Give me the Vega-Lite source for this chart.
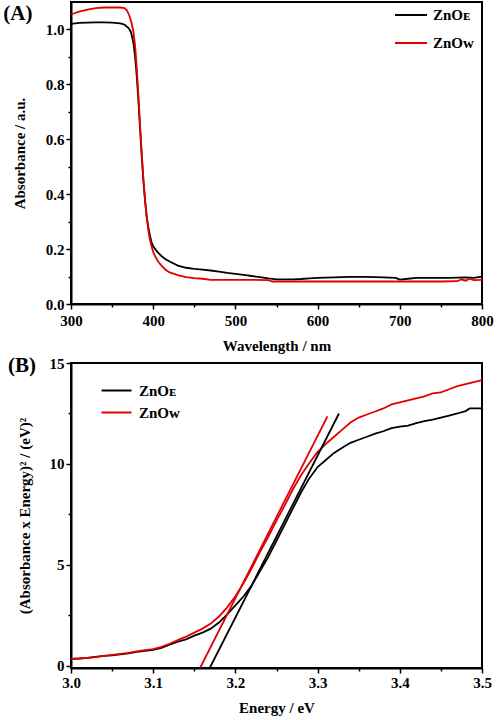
{
  "$schema": "https://vega.github.io/schema/vega-lite/v6.json",
  "background": "white",
  "padding": {"left": 2, "top": 1, "right": 2, "bottom": 0},
  "bounds": "flush",
  "spacing": 59,
  "config": {
    "font": "Liberation Serif",
    "view": {"stroke": "black", "strokeWidth": 2},
    "axis": {
      "grid": false,
      "domainColor": "black",
      "domainWidth": 2,
      "tickColor": "black",
      "tickWidth": 1.5,
      "labelFont": "Liberation Serif",
      "labelFontWeight": "bold",
      "labelFontSize": 15,
      "labelColor": "black",
      "labelFlush": false,
      "labelOverlap": false,
      "titleFont": "Liberation Serif",
      "titleFontWeight": "bold",
      "titleFontSize": 15,
      "titleColor": "black"
    },
    "legend": {
      "labelFont": "Liberation Serif",
      "labelFontWeight": "bold",
      "labelFontSize": 15,
      "labelColor": "black",
      "symbolType": "M-2,0H2",
      "symbolStrokeWidth": 2,
      "title": null
    },
    "title": {"font": "Liberation Serif", "fontWeight": "bold", "fontSize": 21, "color": "black"}
  },
  "datasets": {
    "abs": [
      {"wl": 300, "a": 1.020, "s": "E"}, {"wl": 310, "a": 1.024, "s": "E"}, {"wl": 320, "a": 1.025, "s": "E"}, {"wl": 330, "a": 1.026, "s": "E"}, {"wl": 340, "a": 1.026, "s": "E"}, {"wl": 350, "a": 1.025, "s": "E"}, {"wl": 360, "a": 1.022, "s": "E"}, {"wl": 365, "a": 1.018, "s": "E"}, {"wl": 370, "a": 1.005, "s": "E"}, {"wl": 373, "a": 0.99, "s": "E"}, {"wl": 376, "a": 0.95, "s": "E"}, {"wl": 378, "a": 0.90, "s": "E"}, {"wl": 380, "a": 0.83, "s": "E"}, {"wl": 382, "a": 0.74, "s": "E"}, {"wl": 384, "a": 0.64, "s": "E"}, {"wl": 386, "a": 0.54, "s": "E"}, {"wl": 388, "a": 0.45, "s": "E"}, {"wl": 390, "a": 0.38, "s": "E"}, {"wl": 392, "a": 0.32, "s": "E"}, {"wl": 394, "a": 0.28, "s": "E"}, {"wl": 396, "a": 0.25, "s": "E"}, {"wl": 398, "a": 0.225, "s": "E"}, {"wl": 400, "a": 0.21, "s": "E"}, {"wl": 405, "a": 0.19, "s": "E"}, {"wl": 410, "a": 0.175, "s": "E"}, {"wl": 415, "a": 0.163, "s": "E"}, {"wl": 420, "a": 0.155, "s": "E"}, {"wl": 430, "a": 0.14, "s": "E"}, {"wl": 440, "a": 0.132, "s": "E"}, {"wl": 450, "a": 0.128, "s": "E"}, {"wl": 460, "a": 0.125, "s": "E"}, {"wl": 470, "a": 0.122, "s": "E"}, {"wl": 480, "a": 0.118, "s": "E"}, {"wl": 490, "a": 0.113, "s": "E"}, {"wl": 500, "a": 0.110, "s": "E"}, {"wl": 510, "a": 0.106, "s": "E"}, {"wl": 520, "a": 0.102, "s": "E"}, {"wl": 530, "a": 0.098, "s": "E"}, {"wl": 540, "a": 0.093, "s": "E"}, {"wl": 550, "a": 0.090, "s": "E"}, {"wl": 560, "a": 0.090, "s": "E"}, {"wl": 570, "a": 0.090, "s": "E"}, {"wl": 580, "a": 0.091, "s": "E"}, {"wl": 590, "a": 0.093, "s": "E"}, {"wl": 600, "a": 0.095, "s": "E"}, {"wl": 620, "a": 0.097, "s": "E"}, {"wl": 640, "a": 0.099, "s": "E"}, {"wl": 660, "a": 0.099, "s": "E"}, {"wl": 680, "a": 0.097, "s": "E"}, {"wl": 695, "a": 0.095, "s": "E"}, {"wl": 700, "a": 0.089, "s": "E"}, {"wl": 710, "a": 0.092, "s": "E"}, {"wl": 720, "a": 0.095, "s": "E"}, {"wl": 740, "a": 0.095, "s": "E"}, {"wl": 760, "a": 0.095, "s": "E"}, {"wl": 780, "a": 0.097, "s": "E"}, {"wl": 790, "a": 0.095, "s": "E"}, {"wl": 800, "a": 0.100, "s": "E"},
      {"wl": 300, "a": 1.055, "s": "W"}, {"wl": 305, "a": 1.06, "s": "W"}, {"wl": 310, "a": 1.065, "s": "W"}, {"wl": 320, "a": 1.072, "s": "W"}, {"wl": 330, "a": 1.078, "s": "W"}, {"wl": 340, "a": 1.08, "s": "W"}, {"wl": 350, "a": 1.08, "s": "W"}, {"wl": 360, "a": 1.08, "s": "W"}, {"wl": 365, "a": 1.078, "s": "W"}, {"wl": 368, "a": 1.07, "s": "W"}, {"wl": 371, "a": 1.05, "s": "W"}, {"wl": 374, "a": 1.02, "s": "W"}, {"wl": 376, "a": 0.99, "s": "W"}, {"wl": 378, "a": 0.94, "s": "W"}, {"wl": 380, "a": 0.86, "s": "W"}, {"wl": 382, "a": 0.76, "s": "W"}, {"wl": 384, "a": 0.65, "s": "W"}, {"wl": 386, "a": 0.55, "s": "W"}, {"wl": 388, "a": 0.46, "s": "W"}, {"wl": 390, "a": 0.38, "s": "W"}, {"wl": 392, "a": 0.32, "s": "W"}, {"wl": 394, "a": 0.27, "s": "W"}, {"wl": 396, "a": 0.235, "s": "W"}, {"wl": 398, "a": 0.21, "s": "W"}, {"wl": 400, "a": 0.19, "s": "W"}, {"wl": 403, "a": 0.17, "s": "W"}, {"wl": 406, "a": 0.155, "s": "W"}, {"wl": 410, "a": 0.14, "s": "W"}, {"wl": 415, "a": 0.125, "s": "W"}, {"wl": 420, "a": 0.115, "s": "W"}, {"wl": 430, "a": 0.105, "s": "W"}, {"wl": 440, "a": 0.098, "s": "W"}, {"wl": 450, "a": 0.094, "s": "W"}, {"wl": 460, "a": 0.092, "s": "W"}, {"wl": 470, "a": 0.088, "s": "W"}, {"wl": 480, "a": 0.088, "s": "W"}, {"wl": 500, "a": 0.088, "s": "W"}, {"wl": 520, "a": 0.088, "s": "W"}, {"wl": 540, "a": 0.087, "s": "W"}, {"wl": 545, "a": 0.082, "s": "W"}, {"wl": 560, "a": 0.082, "s": "W"}, {"wl": 600, "a": 0.082, "s": "W"}, {"wl": 650, "a": 0.082, "s": "W"}, {"wl": 700, "a": 0.082, "s": "W"}, {"wl": 750, "a": 0.082, "s": "W"}, {"wl": 770, "a": 0.083, "s": "W"}, {"wl": 775, "a": 0.09, "s": "W"}, {"wl": 780, "a": 0.085, "s": "W"}, {"wl": 785, "a": 0.092, "s": "W"}, {"wl": 790, "a": 0.087, "s": "W"}, {"wl": 800, "a": 0.088, "s": "W"}
    ],
    "tauc": [
      {"e": 3.00, "v": 0.35, "s": "E", "k": "d"}, {"e": 3.01, "v": 0.37, "s": "E", "k": "d"}, {"e": 3.02, "v": 0.40, "s": "E", "k": "d"}, {"e": 3.03, "v": 0.45, "s": "E", "k": "d"}, {"e": 3.04, "v": 0.50, "s": "E", "k": "d"}, {"e": 3.05, "v": 0.52, "s": "E", "k": "d"}, {"e": 3.06, "v": 0.57, "s": "E", "k": "d"}, {"e": 3.07, "v": 0.62, "s": "E", "k": "d"}, {"e": 3.08, "v": 0.70, "s": "E", "k": "d"}, {"e": 3.09, "v": 0.75, "s": "E", "k": "d"}, {"e": 3.10, "v": 0.80, "s": "E", "k": "d"}, {"e": 3.11, "v": 0.90, "s": "E", "k": "d"}, {"e": 3.12, "v": 1.05, "s": "E", "k": "d"}, {"e": 3.13, "v": 1.20, "s": "E", "k": "d"}, {"e": 3.14, "v": 1.32, "s": "E", "k": "d"}, {"e": 3.15, "v": 1.50, "s": "E", "k": "d"}, {"e": 3.16, "v": 1.65, "s": "E", "k": "d"}, {"e": 3.17, "v": 1.85, "s": "E", "k": "d"}, {"e": 3.18, "v": 2.15, "s": "E", "k": "d"}, {"e": 3.19, "v": 2.55, "s": "E", "k": "d"}, {"e": 3.20, "v": 3.0, "s": "E", "k": "d"}, {"e": 3.21, "v": 3.45, "s": "E", "k": "d"}, {"e": 3.22, "v": 4.0, "s": "E", "k": "d"}, {"e": 3.23, "v": 4.7, "s": "E", "k": "d"}, {"e": 3.24, "v": 5.4, "s": "E", "k": "d"}, {"e": 3.25, "v": 6.2, "s": "E", "k": "d"}, {"e": 3.26, "v": 7.0, "s": "E", "k": "d"}, {"e": 3.27, "v": 7.8, "s": "E", "k": "d"}, {"e": 3.28, "v": 8.6, "s": "E", "k": "d"}, {"e": 3.29, "v": 9.3, "s": "E", "k": "d"}, {"e": 3.30, "v": 9.85, "s": "E", "k": "d"}, {"e": 3.31, "v": 10.2, "s": "E", "k": "d"}, {"e": 3.32, "v": 10.55, "s": "E", "k": "d"}, {"e": 3.33, "v": 10.8, "s": "E", "k": "d"}, {"e": 3.34, "v": 11.05, "s": "E", "k": "d"}, {"e": 3.35, "v": 11.2, "s": "E", "k": "d"}, {"e": 3.36, "v": 11.35, "s": "E", "k": "d"}, {"e": 3.37, "v": 11.5, "s": "E", "k": "d"}, {"e": 3.38, "v": 11.62, "s": "E", "k": "d"}, {"e": 3.39, "v": 11.78, "s": "E", "k": "d"}, {"e": 3.40, "v": 11.85, "s": "E", "k": "d"}, {"e": 3.41, "v": 11.9, "s": "E", "k": "d"}, {"e": 3.42, "v": 12.02, "s": "E", "k": "d"}, {"e": 3.43, "v": 12.12, "s": "E", "k": "d"}, {"e": 3.44, "v": 12.2, "s": "E", "k": "d"}, {"e": 3.45, "v": 12.3, "s": "E", "k": "d"}, {"e": 3.46, "v": 12.4, "s": "E", "k": "d"}, {"e": 3.47, "v": 12.5, "s": "E", "k": "d"}, {"e": 3.48, "v": 12.62, "s": "E", "k": "d"}, {"e": 3.485, "v": 12.75, "s": "E", "k": "d"}, {"e": 3.50, "v": 12.75, "s": "E", "k": "d"},
      {"e": 3.00, "v": 0.35, "s": "W", "k": "d"}, {"e": 3.01, "v": 0.37, "s": "W", "k": "d"}, {"e": 3.02, "v": 0.40, "s": "W", "k": "d"}, {"e": 3.03, "v": 0.44, "s": "W", "k": "d"}, {"e": 3.04, "v": 0.50, "s": "W", "k": "d"}, {"e": 3.05, "v": 0.55, "s": "W", "k": "d"}, {"e": 3.06, "v": 0.60, "s": "W", "k": "d"}, {"e": 3.07, "v": 0.65, "s": "W", "k": "d"}, {"e": 3.08, "v": 0.72, "s": "W", "k": "d"}, {"e": 3.09, "v": 0.78, "s": "W", "k": "d"}, {"e": 3.10, "v": 0.83, "s": "W", "k": "d"}, {"e": 3.11, "v": 0.95, "s": "W", "k": "d"}, {"e": 3.12, "v": 1.10, "s": "W", "k": "d"}, {"e": 3.13, "v": 1.28, "s": "W", "k": "d"}, {"e": 3.14, "v": 1.45, "s": "W", "k": "d"}, {"e": 3.15, "v": 1.65, "s": "W", "k": "d"}, {"e": 3.16, "v": 1.85, "s": "W", "k": "d"}, {"e": 3.17, "v": 2.1, "s": "W", "k": "d"}, {"e": 3.18, "v": 2.45, "s": "W", "k": "d"}, {"e": 3.19, "v": 2.9, "s": "W", "k": "d"}, {"e": 3.20, "v": 3.45, "s": "W", "k": "d"}, {"e": 3.21, "v": 4.1, "s": "W", "k": "d"}, {"e": 3.22, "v": 4.85, "s": "W", "k": "d"}, {"e": 3.23, "v": 5.65, "s": "W", "k": "d"}, {"e": 3.24, "v": 6.4, "s": "W", "k": "d"}, {"e": 3.25, "v": 7.2, "s": "W", "k": "d"}, {"e": 3.26, "v": 7.95, "s": "W", "k": "d"}, {"e": 3.27, "v": 8.75, "s": "W", "k": "d"}, {"e": 3.28, "v": 9.45, "s": "W", "k": "d"}, {"e": 3.29, "v": 10.05, "s": "W", "k": "d"}, {"e": 3.30, "v": 10.6, "s": "W", "k": "d"}, {"e": 3.31, "v": 11.0, "s": "W", "k": "d"}, {"e": 3.32, "v": 11.35, "s": "W", "k": "d"}, {"e": 3.33, "v": 11.7, "s": "W", "k": "d"}, {"e": 3.34, "v": 12.05, "s": "W", "k": "d"}, {"e": 3.35, "v": 12.3, "s": "W", "k": "d"}, {"e": 3.36, "v": 12.45, "s": "W", "k": "d"}, {"e": 3.37, "v": 12.6, "s": "W", "k": "d"}, {"e": 3.38, "v": 12.75, "s": "W", "k": "d"}, {"e": 3.39, "v": 12.95, "s": "W", "k": "d"}, {"e": 3.40, "v": 13.05, "s": "W", "k": "d"}, {"e": 3.41, "v": 13.15, "s": "W", "k": "d"}, {"e": 3.42, "v": 13.25, "s": "W", "k": "d"}, {"e": 3.43, "v": 13.35, "s": "W", "k": "d"}, {"e": 3.44, "v": 13.5, "s": "W", "k": "d"}, {"e": 3.45, "v": 13.55, "s": "W", "k": "d"}, {"e": 3.46, "v": 13.7, "s": "W", "k": "d"}, {"e": 3.47, "v": 13.85, "s": "W", "k": "d"}, {"e": 3.48, "v": 13.95, "s": "W", "k": "d"}, {"e": 3.49, "v": 14.05, "s": "W", "k": "d"}, {"e": 3.50, "v": 14.15, "s": "W", "k": "d"},
      {"e": 3.1688, "v": -0.1, "s": "E", "k": "t"}, {"e": 3.326, "v": 12.5, "s": "E", "k": "t"},
      {"e": 3.157, "v": -0.1, "s": "W", "k": "t"}, {"e": 3.312, "v": 12.36, "s": "W", "k": "t"}
    ]
  },
  "vconcat": [
    {
      "width": 411,
      "height": 302,
      "title": {"text": "(A)", "anchor": "start", "frame": "bounds", "dy": 22, "dx": -9, "offset": 0},
      "data": {"name": "abs"},
      "mark": {"type": "line", "strokeWidth": 1.8, "clip": true},
      "encoding": {
        "x": {
          "field": "wl", "type": "quantitative",
          "scale": {"domain": [300, 800], "nice": false},
          "axis": {
            "title": "Wavelength / nm",
            "values": [300, 350, 400, 450, 500, 550, 600, 650, 700, 750, 800],
            "labelExpr": "datum.value % 100 === 0 ? datum.label : ''",
            "tickSize": {"condition": {"test": "datum.value % 100 === 0", "value": 5}, "value": 3},
            "labelPadding": 4,
            "titlePadding": 10
          }
        },
        "y": {
          "field": "a", "type": "quantitative",
          "scale": {"domain": [0, 1.1], "nice": false, "zero": false},
          "axis": {
            "title": "Absorbance / a.u.",
            "values": [0, 0.1, 0.2, 0.3, 0.4, 0.5, 0.6, 0.7, 0.8, 0.9, 1.0],
            "format": ".1f",
            "labelExpr": "abs(datum.value * 5 - round(datum.value * 5)) < 0.001 ? datum.label : ''",
            "tickSize": {"condition": {"test": "abs(datum.value * 5 - round(datum.value * 5)) < 0.001", "value": 5}, "value": 3},
            "labelPadding": 2,
            "titlePadding": 18
          }
        },
        "color": {
          "field": "s", "type": "nominal",
          "scale": {"domain": ["E", "W"], "range": ["#000000", "#e00000"]},
          "legend": {
            "orient": "none",
            "legendX": 331,
            "legendY": 4,
            "labelExpr": "datum.value == 'E' ? 'ZnOᴇ' : 'ZnOᴡ'",
            "symbolSize": 256,
            "labelOffset": 13,
            "rowPadding": 11
          }
        },
        "order": {"field": "wl", "type": "quantitative"}
      }
    },
    {
      "width": 411,
      "height": 305,
      "title": {"text": "(B)", "anchor": "start", "frame": "bounds", "dy": 20, "dx": -9, "offset": 0},
      "data": {"name": "tauc"},
      "mark": {"type": "line", "strokeWidth": 1.8, "clip": true},
      "encoding": {
        "x": {
          "field": "e", "type": "quantitative",
          "scale": {"domain": [3.0, 3.5], "nice": false, "zero": false},
          "axis": {
            "title": "Energy / eV",
            "values": [3.0, 3.05, 3.1, 3.15, 3.2, 3.25, 3.3, 3.35, 3.4, 3.45, 3.5],
            "format": ".1f",
            "labelExpr": "abs(datum.value * 10 - round(datum.value * 10)) < 0.001 ? datum.label : ''",
            "tickSize": {"condition": {"test": "abs(datum.value * 10 - round(datum.value * 10)) < 0.001", "value": 5}, "value": 3},
            "labelPadding": 2,
            "titlePadding": 10
          }
        },
        "y": {
          "field": "v", "type": "quantitative",
          "scale": {"domain": [-0.1, 15], "nice": false, "zero": false},
          "axis": {
            "title": "(Absorbance x Energy)² / (eV)²",
            "values": [0, 2.5, 5, 7.5, 10, 12.5, 15],
            "labelExpr": "datum.value % 5 === 0 ? datum.label : ''",
            "tickSize": {"condition": {"test": "datum.value % 5 === 0", "value": 5}, "value": 3},
            "labelPadding": 2,
            "titlePadding": 17
          }
        },
        "color": {
          "field": "s", "type": "nominal",
          "scale": {"domain": ["E", "W"], "range": ["#000000", "#e00000"]},
          "legend": {
            "orient": "none",
            "legendX": 37,
            "legendY": 19,
            "labelExpr": "datum.value == 'E' ? 'ZnOᴇ' : 'ZnOᴡ'",
            "symbolSize": 225,
            "labelOffset": 14,
            "rowPadding": 5
          }
        },
        "detail": {"field": "k", "type": "nominal"},
        "order": {"field": "e", "type": "quantitative"}
      }
    }
  ],
  "resolve": {"scale": {"color": "independent"}, "legend": {"color": "independent"}}
}
